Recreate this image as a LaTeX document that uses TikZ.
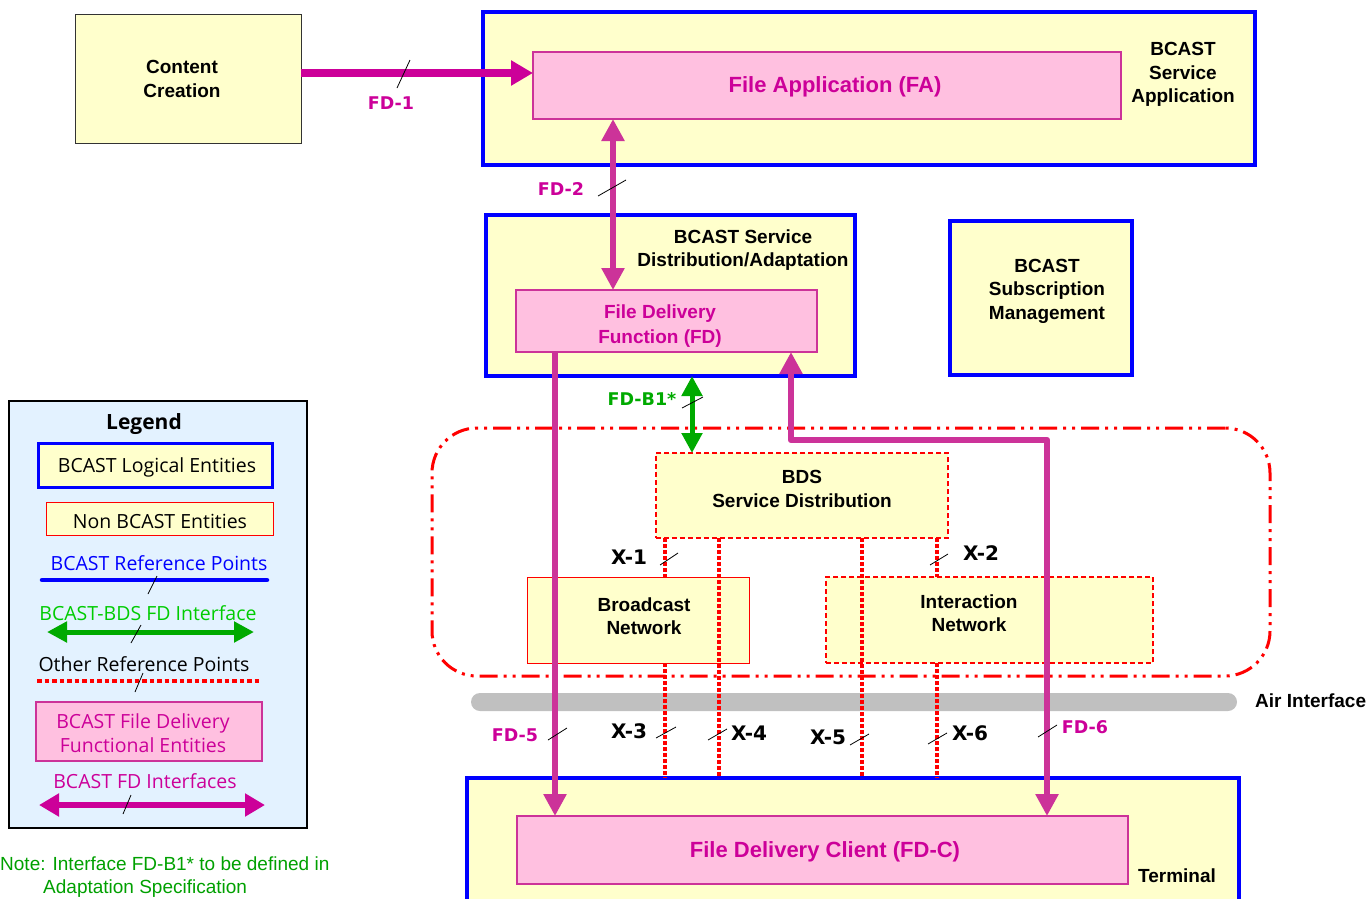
\documentclass[tikz,border=0pt]{standalone}
\usepackage{fontspec}
\setmainfont{Liberation Sans}
\newfontfamily\lblfont{DejaVu Sans}
\newfontfamily\legfont{Open Sans}
\usetikzlibrary{arrows.meta}
\definecolor{ylw}{RGB}{255,255,204}
\definecolor{bblue}{RGB}{0,0,255}
\definecolor{pinkf}{RGB}{255,192,224}
\definecolor{magb}{RGB}{204,51,153}
\definecolor{magt}{RGB}{204,0,153}
\definecolor{grn}{RGB}{0,170,0}
\definecolor{lgrn}{RGB}{0,204,0}
\definecolor{notegrn}{RGB}{0,160,0}
\definecolor{legbg}{RGB}{227,242,255}
\definecolor{airg}{RGB}{192,192,192}
\tikzset{
  box/.style={anchor=north west, inner sep=0pt, outer sep=0pt},
  ybox/.style={box, draw=black!80, line width=1pt, fill=ylw},
  bbox/.style={box, draw=bblue, line width=4pt, fill=ylw},
  pbox/.style={box, draw=magb, line width=2.5pt, fill=pinkf},
  rbox/.style={box, draw=red, line width=1pt, fill=ylw},
  rdbox/.style={box, draw=red, line width=1.3pt, dash pattern=on 5pt off 3pt, fill=ylw},
  txt/.style={font=\fontsize{19}{23.5}\selectfont\bfseries, align=center, inner sep=0pt},
  ptxt/.style={txt, text=magt},
  xdot/.style={red, line width=3.5pt, dash pattern=on 3.5pt off 2.5pt},
  tickl/.style={black, line width=0.8pt},
  xlbl/.style={font=\lblfont\bfseries\fontsize{20}{22}\selectfont, inner sep=0pt},
  fdlbl/.style={font=\lblfont\bfseries\fontsize{17.5}{20}\selectfont, text=magt, inner sep=0pt},
  fdarr/.style={magb, line width=6.5pt, line join=round},
  bigtip/.tip={Triangle[length=22pt, width=22pt]},
  midtip/.tip={Triangle[length=20pt, width=20pt]},
  legtxt/.style={font=\legfont\fontsize{19.5}{24}\selectfont, inner sep=0pt, align=center},
}
\begin{document}
\begin{tikzpicture}[x=1pt, y=-1pt]
\useasboundingbox (0,0) rectangle (1367,898);
\begin{scope}
\clip (0,0) rectangle (1367,898);
% ---------- boxes ----------
\node[ybox, minimum width=226pt, minimum height=129pt] (cc) at (75,14) {};
\node[bbox, minimum width=772pt, minimum height=153pt] (bsa) at (483,12) {};
\node[pbox, minimum width=588pt, minimum height=67pt] (fa) at (533,52) {};
\node[bbox, minimum width=369pt, minimum height=161pt] (bsd) at (486,215) {};
\node[pbox, minimum width=301pt, minimum height=62pt] (fd) at (516,290) {};
\node[bbox, minimum width=182pt, minimum height=154pt] (bsm) at (950,221) {};
\node[rdbox, minimum width=292pt, minimum height=85pt] (bds) at (656,453) {};
\node[rbox, minimum width=222pt, minimum height=86pt] (bcn) at (527,577) {};
\node[rdbox, minimum width=327pt, minimum height=86pt] (inn) at (826,577) {};
\node[box, draw=red, line width=3pt, rounded corners=45pt,
      dash pattern=on 18pt off 6pt on 3pt off 6pt on 3pt off 6pt,
      minimum width=838pt, minimum height=248pt] (bdsarea) at (432,428) {};
\node[box, fill=airg, rounded corners=9pt, minimum width=766pt, minimum height=18pt] (air) at (471,693) {};
\node[bbox, minimum width=772pt, minimum height=140pt] (term) at (467,778) {};
\node[pbox, minimum width=611pt, minimum height=68pt] (fdc) at (517,816) {};
\end{scope}
% ---------- texts ----------
\node[txt] (cct) at (182,79) {Content\\Creation};
\node[txt] (bsat) at (1183,74.5) {BCAST\\Service\\Application};
\node[ptxt, font=\fontsize{22}{26}\selectfont\bfseries] (fat) at (835,87) {File Application (FA)};
\node[txt] (bsdt) at (743,250) {BCAST Service\\Distribution/Adaptation};
\node[ptxt, font=\fontsize{19}{25}\selectfont\bfseries] (fdt) at (660,326) {File Delivery\\Function (FD)};
\node[txt] (bsmt) at (1047,291) {BCAST\\Subscription\\Management};
\node[txt] (bdst) at (802,489) {BDS\\Service Distribution};
\node[txt] (bcnt) at (644,616) {Broadcast\\Network};
\node[txt] (innt) at (969,613) {Interaction\\Network};
\node[txt, anchor=west] (airt) at (1255,701) {Air Interface};
\node[txt] (termt) at (1177,876) {Terminal};
\node[ptxt, font=\fontsize{22}{26}\selectfont\bfseries] (fdct) at (825,852) {File Delivery Client (FD-C)};
% ---------- FD connectors ----------
\draw[magt, line width=8pt, -{Triangle[length=22pt, width=24pt]}] (cc.east |- 0,73) -- (fa.west |- 0,73);
\draw[fdarr, bigtip-bigtip] (613,0 |- fa.south) -- (613,0 |- fd.north);
\draw[fdarr, -bigtip] (555,0 |- fd.south) -- (555,0 |- fdc.north);
\draw[fdarr, bigtip-bigtip] (791,0 |- fd.south) -- (791,440) -- (1047,440) -- (1047,0 |- fdc.north);
\draw[grn, line width=5pt, midtip-midtip] (692,0 |- bsd.south) -- (692,0 |- bds.north);
% ---------- X connectors ----------
\draw[xdot] (665,0 |- bds.south) -- (665,0 |- bcn.north);
\draw[xdot] (937,0 |- bds.south) -- (937,0 |- inn.north);
\draw[xdot] (665,0 |- bcn.south) -- (665,0 |- term.north);
\draw[xdot] (719,0 |- bds.south) -- (719,0 |- term.north);
\draw[xdot] (862,0 |- bds.south) -- (862,0 |- term.north);
\draw[xdot] (937,0 |- inn.south) -- (937,0 |- term.north);
% ---------- ticks ----------
\draw[tickl] (397,88) -- (410,60);
\draw[tickl] (598,196) -- (626,180);
\draw[tickl] (682,408) -- (703,397);
\draw[tickl] (660,565) -- (678,553);
\draw[tickl] (930,565) -- (948,554);
\draw[tickl] (656,738) -- (676,727);
\draw[tickl] (708,740) -- (727,729);
\draw[tickl] (850,745) -- (869,734);
\draw[tickl] (928,744) -- (947,733);
\draw[tickl] (548,740) -- (567,728);
\draw[tickl] (1038,737) -- (1057,725);
% ---------- labels ----------
\node[fdlbl] (l1) at (391,103) {FD-1};
\node[fdlbl] (l2) at (561,189) {FD-2};
\node[fdlbl, text=grn] (lb1) at (642,399) {FD-B1*};
\node[fdlbl] (l5) at (515,735) {FD-5};
\node[fdlbl] (l6) at (1085,727) {FD-6};
\node[xlbl] (x1) at (629,557) {X-1};
\node[xlbl] (x2) at (981,553) {X-2};
\node[xlbl] (x3) at (629,731) {X-3};
\node[xlbl] (x4) at (749,733) {X-4};
\node[xlbl] (x5) at (828,737) {X-5};
\node[xlbl] (x6) at (970,733) {X-6};
% ---------- legend ----------
\node[box, draw=black, line width=2pt, fill=legbg, minimum width=298pt, minimum height=427pt] (leg) at (9,401) {};
\node[legtxt, font=\legfont\bfseries\fontsize{21}{24}\selectfont] (legt) at (144,424) {Legend};
\node[box, draw=bblue, line width=3pt, fill=ylw, minimum width=234pt, minimum height=44pt] (lg1) at (38,443) {};
\node[legtxt] (lg1t) at (157,467) {BCAST Logical Entities};
\node[box, draw=red, line width=1pt, fill=ylw, minimum width=227pt, minimum height=33pt] (lg2) at (46,502) {};
\node[legtxt] (lg2t) at (160,521) {Non BCAST Entities};
\node[legtxt, text=bblue] (lg3t) at (159,563) {BCAST Reference Points};
\coordinate (lg3a) at (42,580); \coordinate (lg3b) at (267,580);
\draw[bblue, line width=4.5pt, line cap=round] (lg3a) -- (lg3b);
\draw[tickl] (148,594) -- (157,576);
\node[legtxt, text=lgrn] (lg4t) at (148,613) {BCAST-BDS FD Interface};
\coordinate (lg4a) at (47,632); \coordinate (lg4b) at (254,632);
\draw[grn, line width=5pt, midtip-midtip] (lg4a) -- (lg4b);
\draw[tickl] (131,643) -- (141,625);
\node[legtxt] (lg5t) at (144,664) {Other Reference Points};
\coordinate (lg5a) at (37,681); \coordinate (lg5b) at (260,681);
\draw[xdot, line width=4.5pt, dash pattern=on 4.5pt off 3pt] (lg5a) -- (lg5b);
\draw[tickl] (135,692) -- (143,673);
\node[box, draw=magb, line width=2.5pt, fill=pinkf, minimum width=226pt, minimum height=59pt] (lg6) at (36,702) {};
\node[legtxt, text=magt] (lg6t) at (143,733) {BCAST File Delivery\\Functional Entities};
\node[legtxt, text=magt] (lg7t) at (145,781) {BCAST FD Interfaces};
\coordinate (lg7a) at (39,805); \coordinate (lg7b) at (265,805);
\draw[magt, line width=5.5pt, {Triangle[length=20pt, width=22pt]}-{Triangle[length=20pt, width=22pt]}] (lg7a) -- (lg7b);
\draw[tickl] (123,814) -- (131,795);
% ---------- note ----------
\node[anchor=north west, inner sep=0pt, align=left, text=notegrn, font=\fontsize{19}{23}\selectfont] (note) at (0,857) {Note: Interface FD-B1* to be defined in\\\hspace*{43pt}Adaptation Specification};
\end{tikzpicture}
\end{document}
